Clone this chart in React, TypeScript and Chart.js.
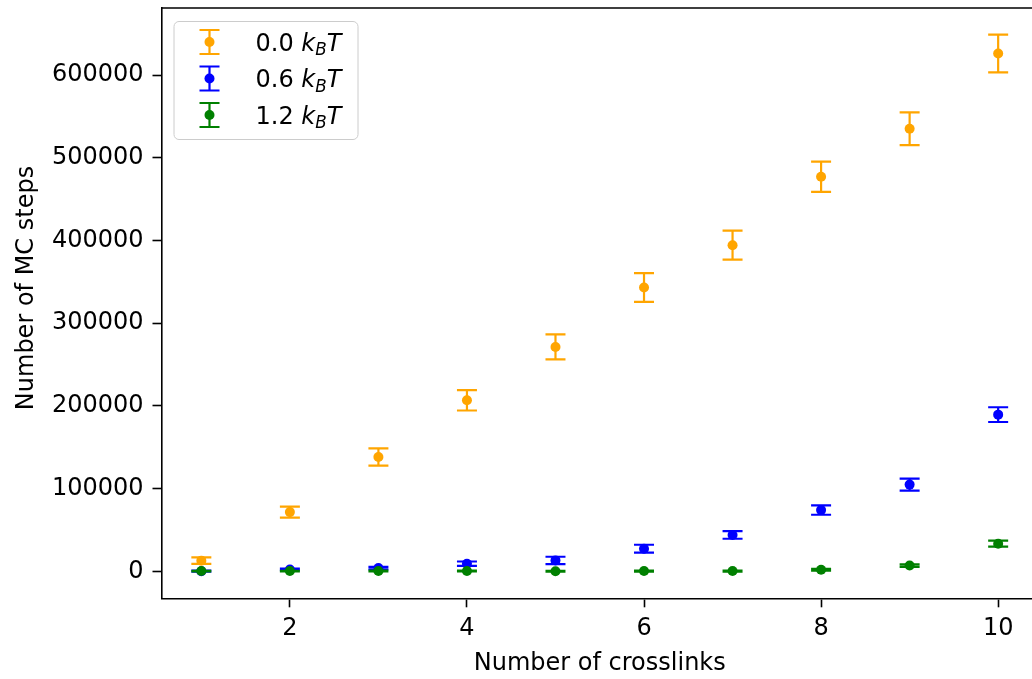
import React, { useEffect, useRef } from 'react';
import { Chart, registerables } from 'chart.js';

Chart.register(...registerables);

// ---- data ----
const crosslinks = [1, 2, 3, 4, 5, 6, 7, 8, 9, 10];
const steps00 = [13000, 71700, 138300, 206800, 271300, 343200, 394300, 477000, 535000, 626000];
const err00 = [4000, 6700, 10500, 12300, 15100, 17300, 17500, 18300, 19800, 22800];
const steps06 = [300, 2400, 4000, 9300, 13300, 27400, 44100, 74100, 104900, 189500];
const err06 = [600, 1000, 1500, 2700, 4400, 4800, 4600, 5600, 7300, 8900];
const steps12 = [400, 400, 500, 500, 300, 400, 400, 2000, 7100, 33500];
const err12 = [300, 300, 400, 500, 500, 600, 700, 1000, 1500, 3600];
const xTicks = [2, 4, 6, 8, 10];
const yTicks = [0, 100000, 200000, 300000, 400000, 500000, 600000];
const seriesLabels = ['0.0', '0.6', '1.2'];
const xTitle = 'Number of crosslinks';
const yTitle = 'Number of MC steps';

const seriesValues = [steps00, steps06, steps12];
const seriesErrors = [err00, err06, err12];
const seriesColors = ['#ffa500', '#0000ff', '#008000'];

const FONT = "'DejaVu Sans', sans-serif";

const errorBarPlugin = {
  id: 'errorBars',
  beforeDatasetDraw(chart: any, args: any) {
    const idx = args.index;
    const vals = seriesValues[idx];
    const errs = seriesErrors[idx];
    const xs = chart.scales.x;
    const ys = chart.scales.y;
    const ctx = chart.ctx;
    const a = chart.chartArea;
    ctx.save();
    ctx.beginPath();
    ctx.rect(a.left, a.top, a.right - a.left, a.bottom - a.top);
    ctx.clip();
    ctx.strokeStyle = seriesColors[idx];
    ctx.lineWidth = 2.2;
    const cap = 10;
    for (let i = 0; i < crosslinks.length; i++) {
      const px = xs.getPixelForValue(crosslinks[i]);
      const lo = ys.getPixelForValue(vals[i] - errs[i]);
      const hi = ys.getPixelForValue(vals[i] + errs[i]);
      ctx.beginPath();
      ctx.moveTo(px, lo);
      ctx.lineTo(px, hi);
      ctx.moveTo(px - cap, lo);
      ctx.lineTo(px + cap, lo);
      ctx.moveTo(px - cap, hi);
      ctx.lineTo(px + cap, hi);
      ctx.stroke();
    }
    ctx.restore();
  },
};

const decorPlugin = {
  id: 'decor',
  afterDraw(chart: any) {
    const ctx = chart.ctx;
    const a = chart.chartArea;
    ctx.save();
    // top & right spines
    ctx.strokeStyle = '#000';
    ctx.lineWidth = 1.6;
    ctx.beginPath();
    ctx.moveTo(a.left, a.top);
    ctx.lineTo(a.right, a.top);
    ctx.lineTo(a.right, a.bottom);
    ctx.stroke();

    // axis titles
    ctx.fillStyle = '#000';
    ctx.font = `24px ${FONT}`;
    ctx.textAlign = 'center';
    ctx.textBaseline = 'alphabetic';
    ctx.fillText(xTitle, (a.left + a.right) / 2, 670);
    ctx.save();
    ctx.translate(32.5, 288);
    ctx.rotate(-Math.PI / 2);
    ctx.fillText(yTitle, 0, 0);
    ctx.restore();

    // legend
    const bx = a.left + 12.5;
    const by = a.top + 13.5;
    const bw = 184;
    const bh = 118;
    const r = 5;
    ctx.beginPath();
    ctx.moveTo(bx + r, by);
    ctx.lineTo(bx + bw - r, by);
    ctx.arcTo(bx + bw, by, bx + bw, by + r, r);
    ctx.lineTo(bx + bw, by + bh - r);
    ctx.arcTo(bx + bw, by + bh, bx + bw - r, by + bh, r);
    ctx.lineTo(bx + r, by + bh);
    ctx.arcTo(bx, by + bh, bx, by + bh - r, r);
    ctx.lineTo(bx, by + r);
    ctx.arcTo(bx, by, bx + r, by, r);
    ctx.closePath();
    ctx.fillStyle = 'rgba(255,255,255,0.8)';
    ctx.fill();
    ctx.strokeStyle = '#cccccc';
    ctx.lineWidth = 1;
    ctx.stroke();

    const hx = a.left + 48;
    const rowY = [a.top + 34, a.top + 70.5, a.top + 107];
    for (let s = 0; s < seriesLabels.length; s++) {
      const cy = rowY[s];
      const col = seriesColors[s];
      ctx.strokeStyle = col;
      ctx.lineWidth = 2.2;
      ctx.beginPath();
      ctx.moveTo(hx, cy - 12);
      ctx.lineTo(hx, cy + 12);
      ctx.moveTo(hx - 10, cy - 12);
      ctx.lineTo(hx + 10, cy - 12);
      ctx.moveTo(hx - 10, cy + 12);
      ctx.lineTo(hx + 10, cy + 12);
      ctx.stroke();
      ctx.fillStyle = col;
      ctx.beginPath();
      ctx.arc(hx, cy, 5, 0, Math.PI * 2);
      ctx.fill();

      // text: "0.0 k_B T"
      ctx.fillStyle = '#000';
      ctx.textAlign = 'left';
      ctx.textBaseline = 'alphabetic';
      const base = cy + 8.7;
      let tx = a.left + 94;
      ctx.font = `24px ${FONT}`;
      const num = seriesLabels[s] + ' ';
      ctx.fillText(num, tx, base);
      tx += ctx.measureText(num).width;
      ctx.font = `italic 24px ${FONT}`;
      ctx.fillText('k', tx, base);
      tx += ctx.measureText('k').width;
      ctx.font = `italic 16.8px ${FONT}`;
      ctx.fillText('B', tx, base + 4.3);
      tx += ctx.measureText('B').width;
      ctx.font = `italic 24px ${FONT}`;
      ctx.fillText('T', tx, base);
    }
    ctx.restore();
  },
};

export default function App() {
  const ref = useRef<HTMLCanvasElement | null>(null);

  useEffect(() => {
    document.body.style.margin = '0';
    const canvas = ref.current;
    if (!canvas) return;
    Chart.defaults.font.family = FONT;
    Chart.defaults.font.size = 24;
    Chart.defaults.color = '#000';

    const datasets = seriesValues.map((vals, s) => ({
      label: seriesLabels[s],
      data: crosslinks.map((x, i) => ({ x, y: vals[i] })),
      backgroundColor: seriesColors[s],
      borderColor: seriesColors[s],
      pointRadius: 5,
      pointBorderWidth: 0,
      pointHoverRadius: 5,
      showLine: false,
      order: 3 - s,
    }));

    const chart = new Chart(canvas, {
      type: 'scatter',
      data: { datasets },
      plugins: [errorBarPlugin, decorPlugin],
      options: {
        animation: false,
        responsive: false,
        devicePixelRatio: 1,
        events: [],
        layout: { padding: { top: 8, right: 1, left: 0, bottom: 0 } },
        plugins: {
          legend: { display: false },
          tooltip: { enabled: false },
        },
        scales: {
          x: {
            type: 'linear',
            min: 0.55,
            max: 10.45,
            afterBuildTicks: (scale: any) => {
              scale.ticks = xTicks.map((v) => ({ value: v }));
            },
            afterFit: (scale: any) => {
              scale.height = 80.7;
              scale.paddingLeft = 0;
              scale.paddingRight = 0;
            },
            ticks: {
              padding: 7.5,
              maxRotation: 0,
              autoSkip: false,
              font: { size: 24, family: FONT },
              color: '#000',
              callback: (v: any) => String(v),
            },
            grid: {
              drawOnChartArea: false,
              drawTicks: true,
              tickLength: 9,
              tickColor: '#000',
              tickWidth: 1.6,
              color: '#000',
            },
            border: { display: true, color: '#000', width: 1.6 },
          },
          y: {
            type: 'linear',
            min: -32500,
            max: 681000,
            afterBuildTicks: (scale: any) => {
              scale.ticks = yTicks.map((v) => ({ value: v }));
            },
            afterFit: (scale: any) => {
              scale.width = 161.5;
              scale.paddingTop = 0;
              scale.paddingBottom = 0;
            },
            ticks: {
              padding: 9,
              autoSkip: false,
              font: { size: 24, family: FONT },
              color: '#000',
              callback: (v: any) => String(v),
            },
            grid: {
              drawOnChartArea: false,
              drawTicks: true,
              tickLength: 9,
              tickColor: '#000',
              tickWidth: 1.6,
              color: '#000',
            },
            border: { display: true, color: '#000', width: 1.6 },
          },
        },
      },
    } as any);

    return () => chart.destroy();
  }, []);

  return (
    <div style={{ width: 1032, height: 679, overflow: 'hidden', position: 'relative', background: '#fff' }}>
      <canvas ref={ref} width={1043} height={679} style={{ display: 'block', width: 1043, height: 679 }} />
    </div>
  );
}
